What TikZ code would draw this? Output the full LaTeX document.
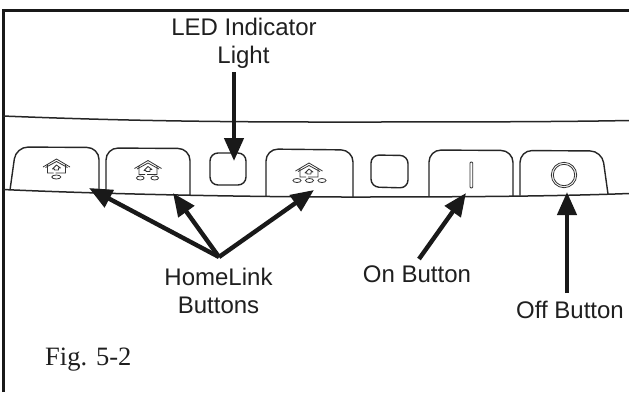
\documentclass[tikz,border=0pt]{standalone}
\usepackage{fontspec}
\setmainfont{Liberation Sans}
\newfontfamily\figfont{Liberation Serif}
\usetikzlibrary{arrows.meta}
\tikzset{
  panel/.style={line width=1.4pt,draw=black!85,rounded corners=12pt},
  ledbox/.style={line width=1.4pt,draw=black!85,rounded corners=8pt},
  callout/.style={line width=4.4pt,draw=black!90,-{Triangle[length=23pt,width=19pt]}},
  lbl/.style={font=\fontsize{24}{28}\selectfont,inner sep=0pt,anchor=base,text=black!88},
  figlbl/.style={font=\figfont\fontsize{26.5}{30}\selectfont,inner sep=0pt,anchor=base west,text=black!88},
  edge line/.style={line width=1.5pt,draw=black!85},
  icon/.style={line width=.8pt,draw=black!80},
  homeicon/.pic={
    \draw[icon] (-13.5,1) -- (0,-7) -- (13.5,1) (-9,-2) -- (-9,7) -- (-3,7) (9,-2) -- (9,7) -- (-1,7);
    \draw[icon] (-11,1.5) -- (0,-4.5) -- (11,1.5);
    \draw[icon,line join=round] (-4,3) -- (0,-1) -- (4,2) -- (2,2) -- (2,4) -- (-2,4) -- (-2,3) -- cycle;
  }
}
\begin{document}
\begin{tikzpicture}[x=1pt,y=-1pt]
\useasboundingbox (0,0) rectangle (629,392);
\fill[white] (0,0) rectangle (629,392);
% frame: top and left edges only
\draw[line width=3pt,draw=black!90] (3.5,392) -- (3.5,10) -- (629,10);
% panel lines
\draw[edge line] (3,116) .. controls (100,120) and (200,122) .. (320,122) .. controls (450,122) and (550,122) .. (629,120.5);
\draw[edge line] (3,189.5) .. controls (100,194) and (250,197) .. (350,197) .. controls (450,197) and (550,196.5) .. (629,193.5);
% buttons
\draw[panel] (10,190) -- (16,147) -- (99,147.5) -- (99,193);
\draw[panel] (106,194) -- (106,148) -- (190,148.5) -- (190,195);
\draw[ledbox] (210,153) rectangle (246,185);
\draw[panel] (266,196) -- (266,149) -- (353,150) -- (353,197);
\draw[ledbox] (371,155) -- (408,155.5) -- (408,188) -- (371,187) -- cycle;
\draw[panel] (429,196) -- (429,150) -- (513,150.5) -- (513,196);
\draw[panel] (520,195.5) -- (520,150.5) -- (602,151) -- (608,194);
% icons
\pic at (56.5,166) {homeicon};
\draw[icon] (56.3,177) ellipse (4.5 and 2);
\pic at (148,167.5) {homeicon};
\draw[icon] (140.3,178) ellipse (3.8 and 2) (154.7,178) ellipse (3.8 and 2);
\pic at (309,170) {homeicon};
\draw[icon] (297,180.5) ellipse (4 and 2) (309.5,180.5) ellipse (4 and 2) (322,180.5) ellipse (4 and 2);
\draw[icon,rounded corners=1pt] (470,162) rectangle (472.7,188);
\draw[icon] (564,175) circle (12.7) (564,175) circle (10.7);
% labels
\node[lbl] (led) at (244,35) {LED Indicator};
\node[lbl] (light) at (243.5,63) {Light};
\node[lbl] (home) at (218.5,285) {HomeLink};
\node[lbl] (btns) at (218.5,313) {Buttons};
\node[lbl] (on) at (417,282) {On Button};
\node[lbl] (off) at (570,318) {Off Button};
\node[figlbl] (fig) at (45,365) {Fig. 5-2};
% connectors
\coordinate (hub) at (219,257);
\coordinate (ledT) at (234,161);
\coordinate (h1) at (89,188);
\coordinate (h2) at (173,193);
\coordinate (h3) at (314,190);
\coordinate (onS) at (419,259);
\coordinate (onT) at (466,193);
\coordinate (offS) at (567,293);
\coordinate (offT) at (567,192);
\coordinate (ledS) at (234,72);
\draw[callout] (ledS) -- (ledT);
\draw[callout] (hub) -- (h1);
\draw[callout] (hub) -- (h2);
\draw[callout] (hub) -- (h3);
\draw[callout] (onS) -- (onT);
\draw[callout] (offS) -- (offT);
\end{tikzpicture}
\end{document}
